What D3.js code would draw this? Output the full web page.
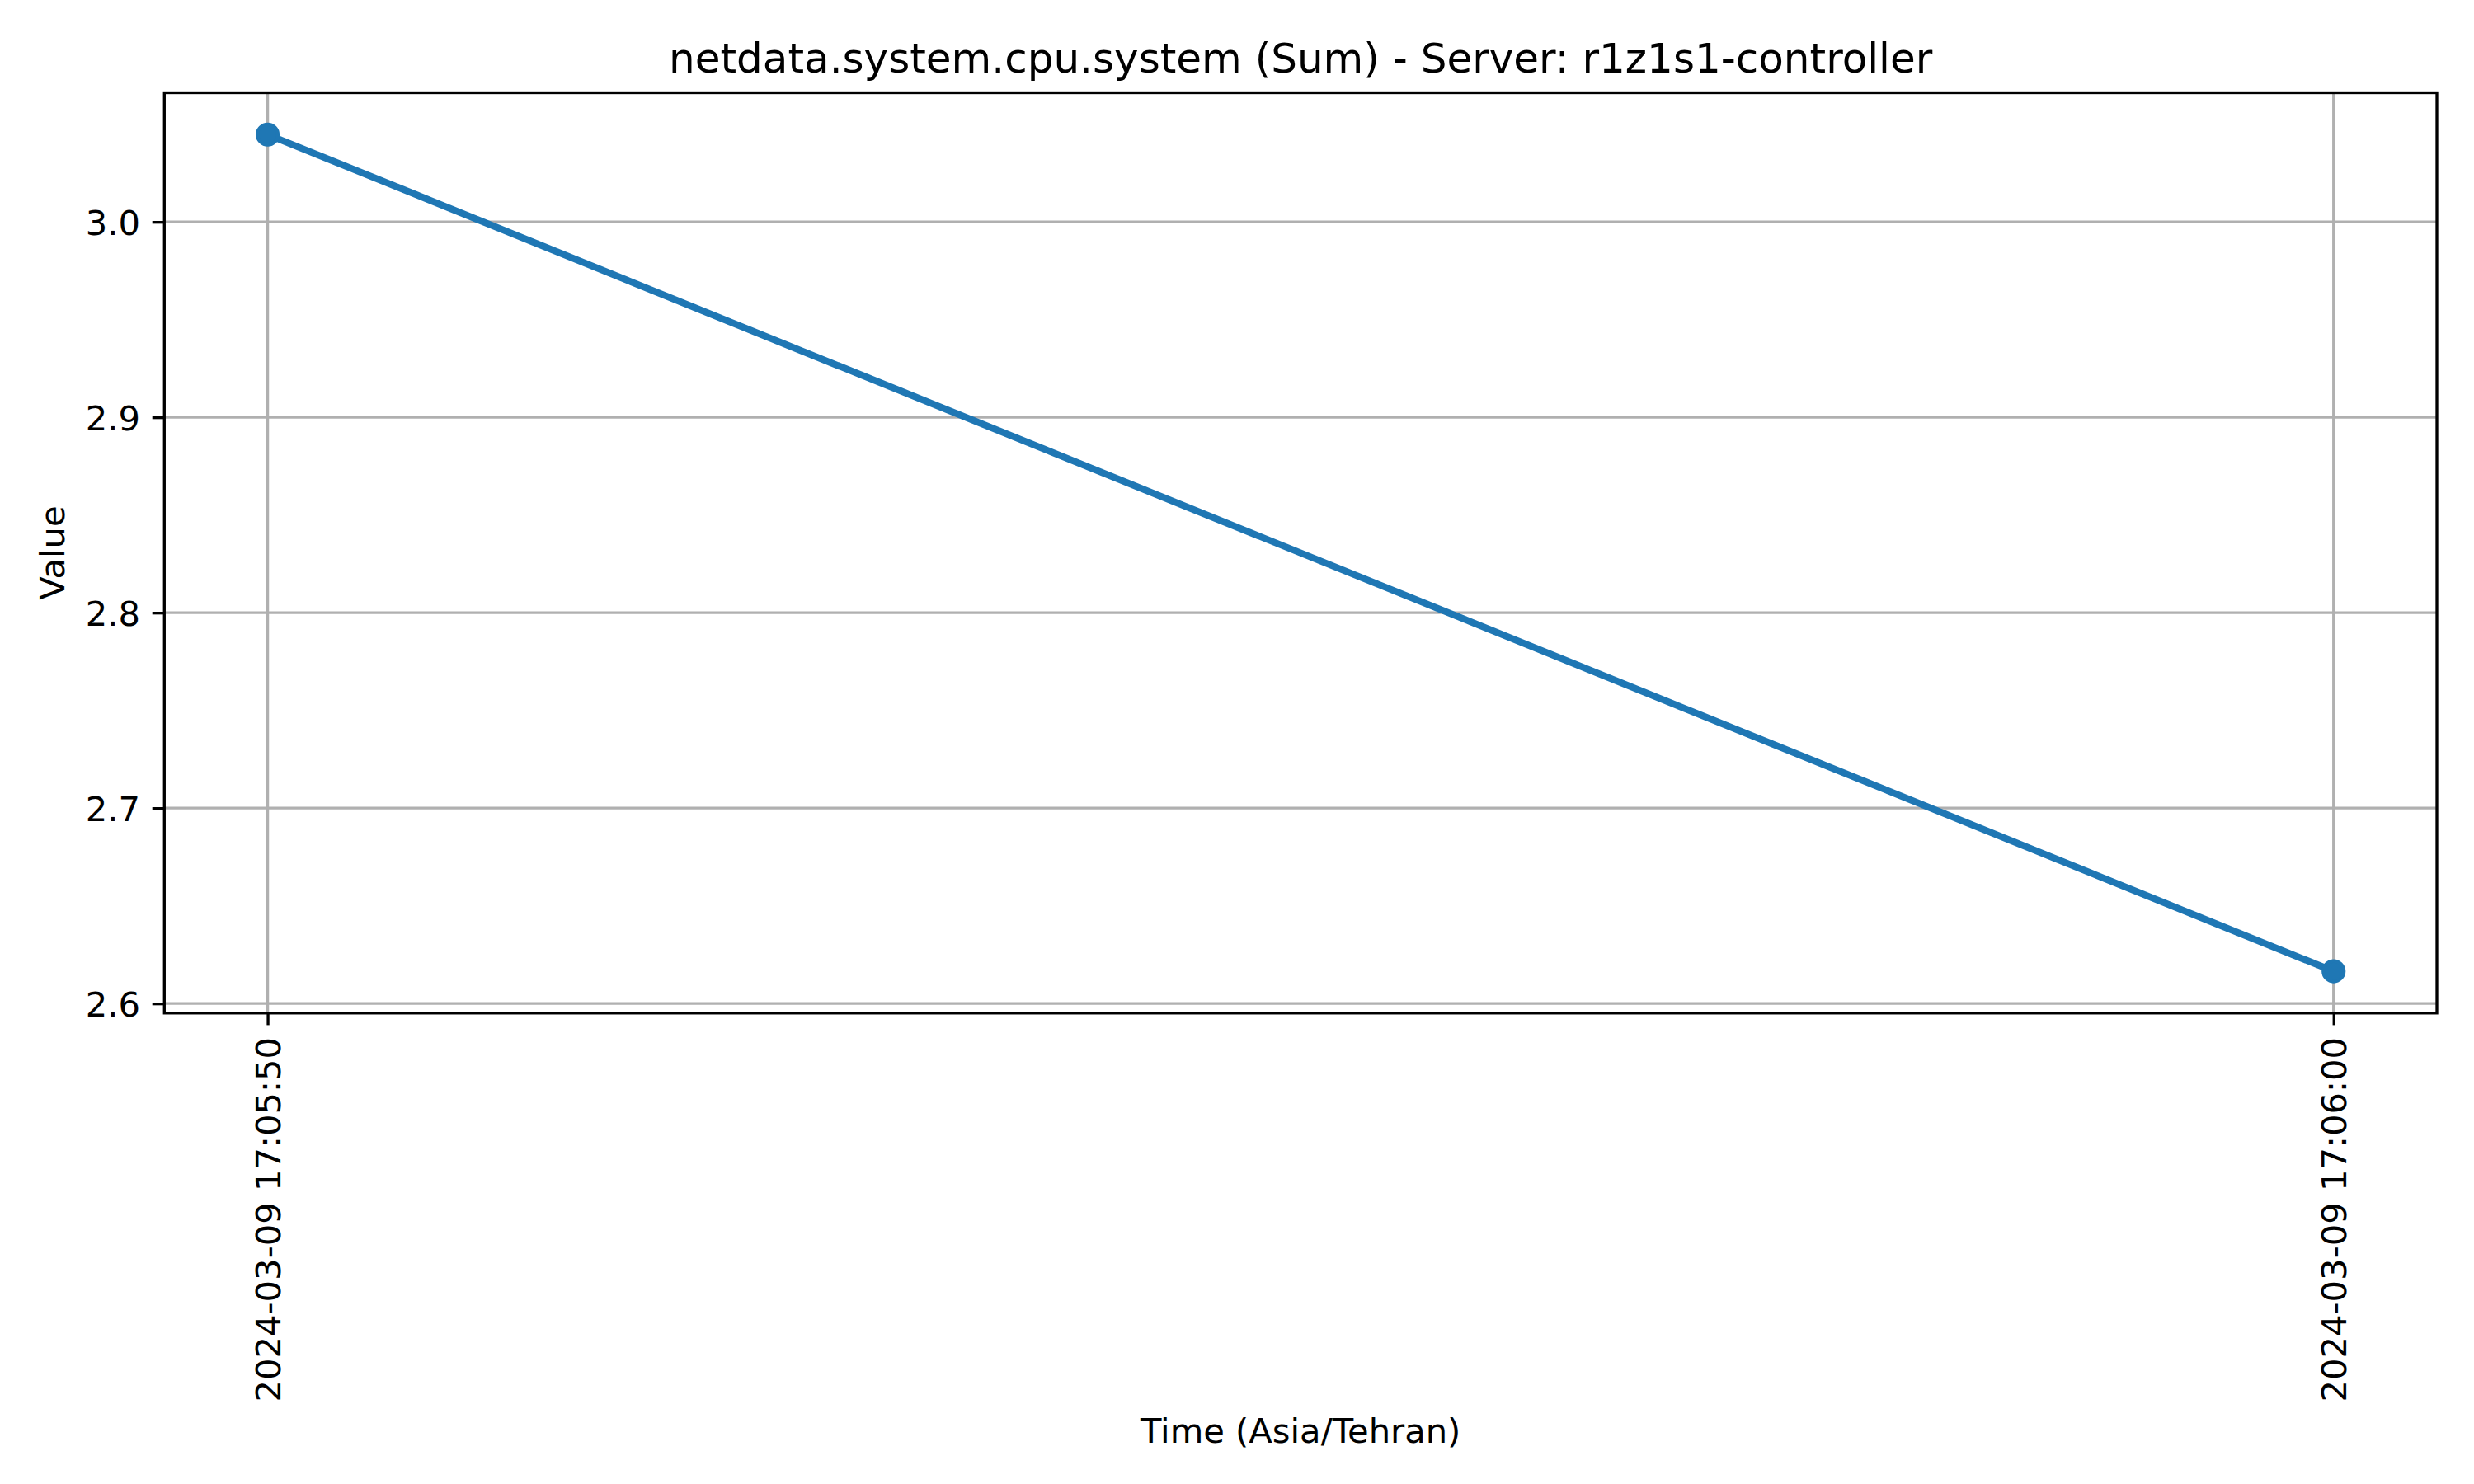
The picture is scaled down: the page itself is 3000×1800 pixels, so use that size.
<!DOCTYPE html>
<html>
<head>
<meta charset="utf-8">
<script src="https://cdn.jsdelivr.net/npm/d3@7"></script>
<style>
  html, body { margin: 0; padding: 0; background: #fff; }
  svg { display: block; font-family: "DejaVu Sans", sans-serif; }
</style>
</head>
<body>
<svg id="chart" width="3000" height="1800"></svg>
<script>
const times = ["2024-03-09 17:05:50", "2024-03-09 17:06:00"];
const values = [3.0447, 2.6165];
const yTicks = [2.6, 2.7, 2.8, 2.9, 3.0];
const titleText = "netdata.system.cpu.system (Sum) - Server: r1z1s1-controller";
const xLabelText = "Time (Asia/Tehran)";
const yLabelText = "Value";

const W = 3000, H = 1800;
const m = { left: 199.3, right: 2955, top: 112.5, bottom: 1228.8 };
const fs = 41.67;
const lw = 3.33;
const tickLen = 14.6, tickPad = 14.6;

const parse = d3.timeParse("%Y-%m-%d %H:%M:%S");
const data = times.map((t, i) => ({ t: parse(t), v: values[i], label: t }));

const svg = d3.select("#chart");

// x domain with 5% margins
const tExt = d3.extent(data, d => d.t);
const span = tExt[1] - tExt[0];
const x = d3.scaleTime()
  .domain([new Date(+tExt[0] - span * 0.05), new Date(+tExt[1] + span * 0.05)])
  .range([m.left, m.right]);
const vExt = d3.extent(values);
const vSpan = vExt[1] - vExt[0];
const y = d3.scaleLinear()
  .domain([vExt[0] - vSpan * 0.05, vExt[1] + vSpan * 0.05])
  .range([m.bottom, m.top]);

// grid
const grid = svg.append("g");
grid.selectAll("line.gy").data(yTicks).enter().append("line")
  .attr("x1", m.left).attr("x2", m.right)
  .attr("y1", d => y(d)).attr("y2", d => y(d))
  .attr("stroke", "#b0b0b0").attr("stroke-width", lw);
grid.selectAll("line.gx").data(data).enter().append("line")
  .attr("x1", d => x(d.t)).attr("x2", d => x(d.t))
  .attr("y1", m.top).attr("y2", m.bottom)
  .attr("stroke", "#b0b0b0").attr("stroke-width", lw);

// line
const line = d3.line().x(d => x(d.t)).y(d => y(d.v));
svg.append("path").datum(data)
  .attr("d", line)
  .attr("fill", "none")
  .attr("stroke", "#1f77b4")
  .attr("stroke-width", 8.33)
  .attr("stroke-linecap", "square")
  .attr("stroke-linejoin", "round");

svg.selectAll("circle.pt").data(data).enter().append("circle")
  .attr("cx", d => x(d.t)).attr("cy", d => y(d.v))
  .attr("r", 12.5)
  .attr("fill", "#1f77b4")
  .attr("stroke", "#1f77b4").attr("stroke-width", 4.17);

// spines
svg.append("rect")
  .attr("x", m.left).attr("y", m.top)
  .attr("width", m.right - m.left).attr("height", m.bottom - m.top)
  .attr("fill", "none").attr("stroke", "#000").attr("stroke-width", lw)
  .attr("stroke-linejoin", "miter");

// y axis ticks
const yAxis = d3.axisLeft(y).tickValues(yTicks).tickFormat(d3.format(".1f"))
  .tickSize(tickLen).tickPadding(tickPad);
const gy = svg.append("g").attr("transform", `translate(${m.left},0)`).call(yAxis);
gy.select(".domain").remove();
gy.selectAll(".tick line").attr("stroke", "#000").attr("stroke-width", lw);
gy.selectAll(".tick text").attr("font-size", fs).attr("fill", "#000")
  .attr("font-family", "DejaVu Sans").attr("dy", "0.36em");

// x axis ticks
const xAxis = d3.axisBottom(x).tickValues(data.map(d => d.t))
  .tickFormat((d, i) => data[i].label)
  .tickSize(tickLen).tickPadding(tickPad);
const gx = svg.append("g").attr("transform", `translate(0,${m.bottom})`).call(xAxis);
gx.select(".domain").remove();
gx.selectAll(".tick line").attr("stroke", "#000").attr("stroke-width", lw);
gx.selectAll(".tick text")
  .attr("font-size", fs).attr("fill", "#000").attr("font-family", "DejaVu Sans")
  .attr("text-anchor", "end")
  .attr("dy", null)
  .attr("transform", `translate(0,${tickLen + tickPad}) rotate(-90)`)
  .attr("x", 0).attr("y", 0)
  .attr("dominant-baseline", "central");

// title
svg.append("text")
  .attr("x", (m.left + m.right) / 2).attr("y", m.top - 25)
  .attr("text-anchor", "middle")
  .attr("font-size", 50).attr("fill", "#000")
  .text(titleText);

// axis labels
svg.append("text")
  .attr("x", (m.left + m.right) / 2).attr("y", 1750)
  .attr("text-anchor", "middle")
  .attr("font-size", fs).attr("fill", "#000")
  .text(xLabelText);

svg.append("text")
  .attr("transform", `translate(78,${(m.top + m.bottom) / 2}) rotate(-90)`)
  .attr("text-anchor", "middle")
  .attr("font-size", fs).attr("fill", "#000")
  .text(yLabelText);
</script>
</body>
</html>
